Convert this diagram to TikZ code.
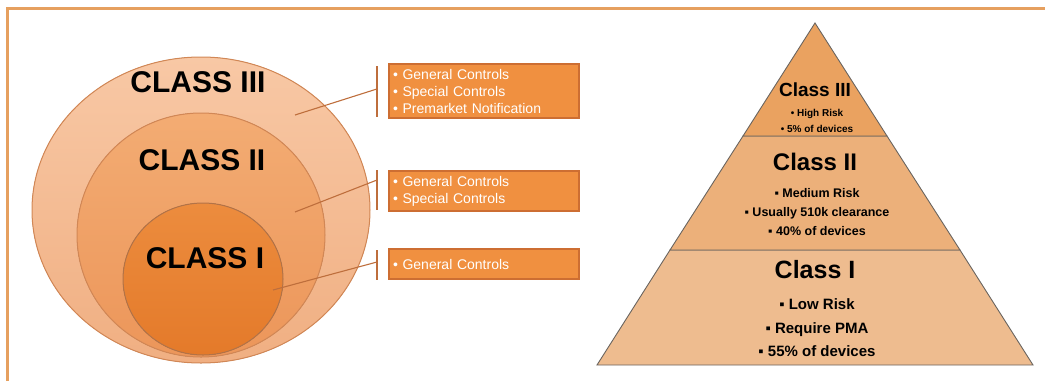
\documentclass[tikz,border=0pt]{standalone}
\usepackage{fontspec}
\setmainfont{Liberation Sans}
\usepackage{tikz}
\usetikzlibrary{calc}

\definecolor{framecol}{RGB}{230,160,95}
\definecolor{ringline}{RGB}{210,135,85}
\definecolor{outertop}{RGB}{248,200,165}
\definecolor{outerbot}{RGB}{240,175,130}
\definecolor{midtop}{RGB}{243,172,115}
\definecolor{midbot}{RGB}{236,150,90}
\definecolor{innertop}{RGB}{236,140,62}
\definecolor{innerbot}{RGB}{228,122,42}
\definecolor{boxfill}{RGB}{240,144,64}
\definecolor{boxline}{RGB}{205,110,50}
\definecolor{stemcol}{RGB}{190,110,60}
\definecolor{pyrtop}{RGB}{234,162,96}
\definecolor{pyrmid}{RGB}{236,176,122}
\definecolor{pyrbot}{RGB}{238,188,143}
\definecolor{pyrline}{RGB}{105,100,95}

\tikzset{
  classlabel/.style={font=\fontsize{30}{30}\selectfont\bfseries},
  ctrlbox/.style={draw=boxline, line width=1.2pt, fill=boxfill, text=white,
    text width=182pt, align=left, inner xsep=4pt, inner ysep=1pt,
    font=\fontsize{14}{17}\selectfont},
  stem/.style={stemcol, line width=1.1pt},
  pyrtitle/.style={font=\bfseries},
  pyrlist/.style={align=center, font=\bfseries}
}

\begin{document}
\begin{tikzpicture}[x=1pt,y=-1pt]
	\useasboundingbox (0,0) rectangle (1045,381);
	\draw[framecol, line width=3pt] (7,381) -- (7,8) -- (1045,8);
	\filldraw[top color=outertop, bottom color=outerbot, draw=ringline, line width=1pt] (201,210) ellipse (169 and 153);
	\filldraw[top color=midtop, bottom color=midbot, draw=ringline, line width=1pt] (201,235) ellipse (124 and 122);
	\filldraw[top color=innertop, bottom color=innerbot, draw=ringline!85!black, line width=1pt] (203,279) ellipse (80 and 76);
	\node[classlabel] (c3) at (198,82) {CLASS III};
	\node[classlabel] (c2) at (202,160) {CLASS II};
	\node[classlabel] (c1) at (205,258) {CLASS I};
	\coordinate (pin3) at (295,115);
	\coordinate (pin2) at (295,212);
	\coordinate (pin1) at (273,290);
	\coordinate (br3a) at (377,66);
	\coordinate (br3b) at (377,117);
	\coordinate (br2a) at (377,170);
	\coordinate (br2b) at (377,210);
	\coordinate (br1a) at (377,250);
	\coordinate (br1b) at (377,280);
	\draw[stem] (br3a) -- (br3b);
	\draw[stem] (br2a) -- (br2b);
	\draw[stem] (br1a) -- (br1b);
	\draw[stem] (pin3) -- ($(br3a)!0.45!(br3b)$);
	\draw[stem] (pin2) -- ($(br2a)!0.25!(br2b)$);
	\draw[stem] (pin1) -- ($(br1a)!0.4!(br1b)$);
	\node[ctrlbox, minimum height=54pt] (b3) at (484,91) {• General Controls\\• Special Controls\\• Premarket Notification};
	\node[ctrlbox, minimum height=40pt] (b2) at (484,191) {• General Controls\\• Special Controls};
	\node[ctrlbox, minimum height=30pt] (b1) at (484,264) {• General Controls};
	\filldraw[fill=pyrbot, draw=pyrline, line width=0.9pt] (670,250) -- (960,250) -- (1033,365) -- (597,365) -- cycle;
	\filldraw[fill=pyrmid, draw=pyrline, line width=0.9pt] (743,136) -- (887,136) -- (960,250) -- (670,250) -- cycle;
	\filldraw[fill=pyrtop, draw=pyrline, line width=0.9pt] (815,23) -- (887,136) -- (743,136) -- cycle;
	\node[pyrtitle, font=\fontsize{19}{19}\selectfont\bfseries] (t3) at (815,90) {Class III};
	\node[pyrlist, font=\fontsize{10}{16}\selectfont\bfseries] (l3) at (817,121) {• High Risk\\• 5\% of devices};
	\node[pyrtitle, font=\fontsize{24}{24}\selectfont\bfseries] (t2) at (815,162) {Class II};
	\node[pyrlist, font=\fontsize{12.5}{19}\selectfont\bfseries] (l2) at (817,212) {▪ Medium Risk\\▪ Usually 510k clearance\\▪ 40\% of devices};
	\node[pyrtitle, font=\fontsize{25}{25}\selectfont\bfseries] (t1) at (815,270) {Class I};
	\node[pyrlist, font=\fontsize{15}{23.5}\selectfont\bfseries] (l1) at (817,328) {▪ Low Risk\\▪ Require PMA\\▪ 55\% of devices};
\end{tikzpicture}
\end{document}
